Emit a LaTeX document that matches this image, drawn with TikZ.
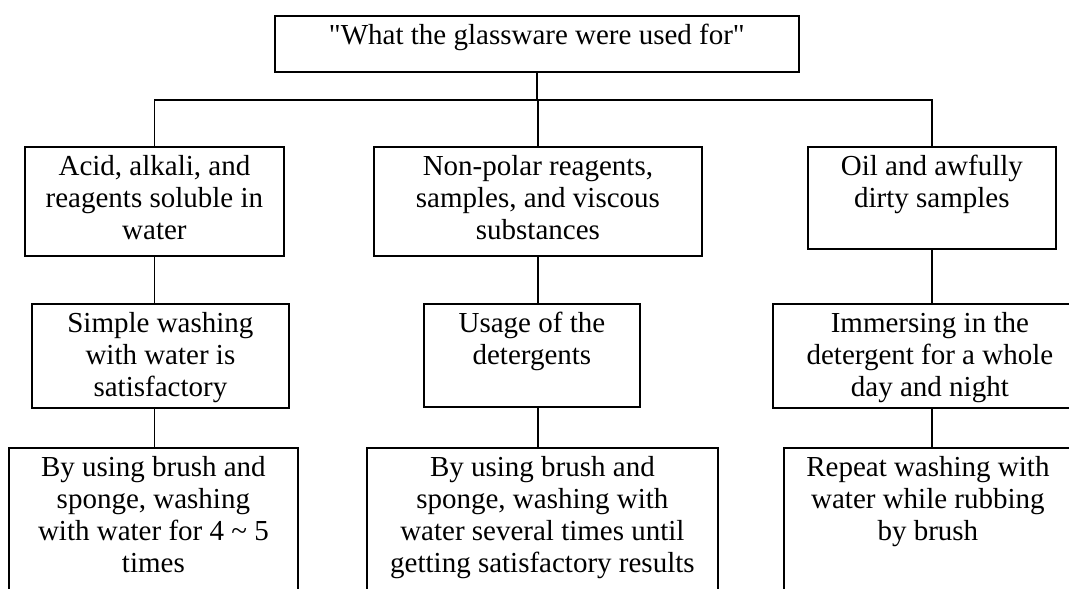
\documentclass[tikz,border=0pt]{standalone}
\usepackage{fontspec}
\setmainfont{Liberation Serif}[Ligatures=TeXOff]
\newcommand{\boxtext}[3]{\parbox[c][#2][t]{#1}{\centering\vspace*{6pt}\strut#3}}
\tikzset{
  box/.style={draw, line width=1.8pt, inner sep=0pt, anchor=north west},
  link/.style={line width=1.8pt}
}
\begin{document}
\begin{tikzpicture}[x=1pt,y=-1pt,font=\fontsize{29}{32}\selectfont]
\clip (0,0) rectangle (1069,589);
\node[box] (top) at (274,15) {\boxtext{524pt}{56pt}{"What the glassware were used for"}};
% first row
\node[box] (acid) at (24,146) {\boxtext{259pt}{109pt}{Acid, alkali, and\\ reagents soluble in\\ water}};
\node[box] (nonpolar) at (373,146) {\boxtext{328pt}{109pt}{Non-polar reagents,\\ samples, and viscous\\ substances}};
\node[box] (oil) at (807,146) {\boxtext{248pt}{102pt}{Oil and awfully\\ dirty samples}};
% second row
\node[box] (simple) at (31,303) {\boxtext{257pt}{104pt}{Simple washing\\ with water is\\ satisfactory}};
\node[box] (usage) at (423,303) {\boxtext{216pt}{103pt}{Usage of the\\ detergents}};
\node[box] (immerse) at (772,303) {\boxtext{314pt}{104pt}{Immersing in the\\ detergent for a whole\\ day and night}};
% third row
\node[box] (brush) at (8,447) {\boxtext{289pt}{170pt}{By using brush and\\ sponge, washing\\ with water for 4 \textasciitilde{} 5\\ times}};
\node[box] (sponge) at (366,447) {\boxtext{351pt}{170pt}{By using brush and\\ sponge, washing with\\ water several times until\\ getting satisfactory results}};
\node[box] (repeat) at (783,447) {\boxtext{288pt}{170pt}{Repeat washing with\\ water while rubbing\\ by brush}};
% connectors
\coordinate (bar) at (0,100);
\draw[link] (top.south) -- (top.south |- bar);
\draw[link] (acid.north) |- (top.south |- bar) -| (oil.north);
\draw[link] (nonpolar.north) -- (nonpolar.north |- bar);
\draw[link] (acid.south) -- (acid.south |- simple.north);
\draw[link] (nonpolar.south) -- (nonpolar.south |- usage.north);
\draw[link] (oil.south) -- (oil.south |- immerse.north);
\draw[link] (simple.south -| acid.south) -- (brush.north -| acid.south);
\draw[link] (usage.south -| nonpolar.south) -- (sponge.north -| nonpolar.south);
\draw[link] (immerse.south -| oil.south) -- (repeat.north -| oil.south);
\end{tikzpicture}
\end{document}
